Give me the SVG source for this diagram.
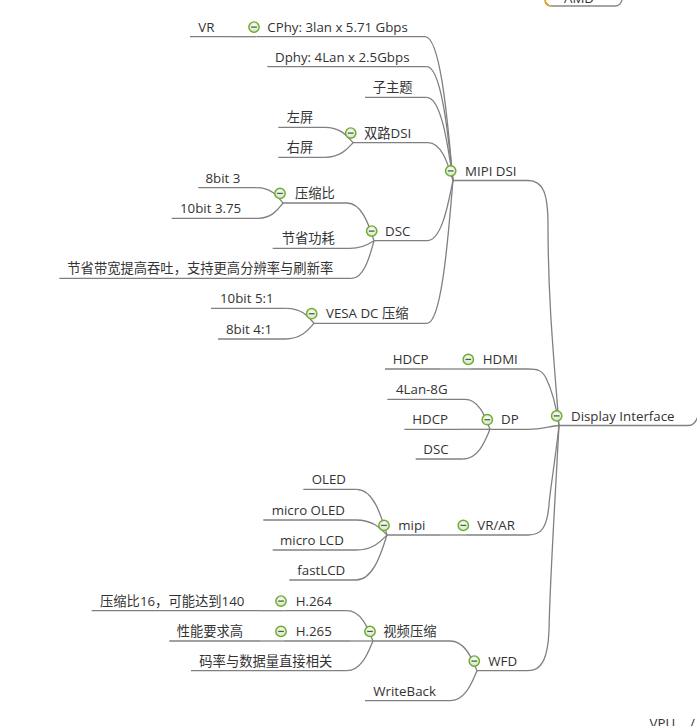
<svg xmlns="http://www.w3.org/2000/svg" xmlns:xlink="http://www.w3.org/1999/xlink" width="697" height="726" viewBox="0 0 697 726">
<style>
.t{font-family:"Open Sans","Noto Sans CJK SC",sans-serif;font-size:13.3px;fill:#333}
.u{stroke:#808080;stroke-width:1.3;fill:none}
.c{stroke:#808080;stroke-width:1.3;fill:none}
</style>
<defs>
<radialGradient id="gg" cx="0.5" cy="0.4" r="0.6">
<stop offset="0" stop-color="#ffffff"/>
<stop offset="1" stop-color="#c9e4ad"/>
</radialGradient>
<g id="col">
<circle r="5.2" fill="url(#gg)" stroke="#6aaa33" stroke-width="1.4"/>
<line x1="-2.8" y1="0" x2="2.8" y2="0" stroke="#555" stroke-width="1.3"/>
</g>
</defs>
<rect width="697" height="726" fill="#fff"/>

<g id="connectors">
<!-- root: Display Interface to children -->
<path class="c" d="M559,425.5 C554,360 548,300 548,225 C548,193 543,180.5 528,180.5"/>
<path class="c" d="M559,425.5 C556,405 551,388 546,378 C542,370 537,369 528,369"/>
<path class="c" d="M559,425.5 C550,426 542,429.3 528,429.3"/>
<path class="c" d="M559,425.5 C554,470 550,490 549,505 C547,527 542,535 528,535"/>
<path class="c" d="M559,425.5 C554,520 550,580 549,630 C548,658 542,670.7 528,670.7"/>
<!-- MIPI DSI children -->
<path class="c" d="M425,36.7 C441.8,36.7 448.8,137.4 453,180.5"/>
<path class="c" d="M426.7,66.7 C442.5,66.7 449.1,146.4 453,180.5"/>
<path class="c" d="M426.7,97.3 C442.5,97.3 449.1,155.5 453,180.5"/>
<path class="c" d="M428,142.7 C443,142.7 449.3,169.2 453,180.5"/>
<path class="c" d="M427,240.7 C442.6,240.7 449.1,198.6 453,180.5"/>
<path class="c" d="M427,323.3 C442.6,323.3 449.1,223.3 453,180.5"/>
<!-- CPhy child -->
<path class="c" d="M230,36.7 H256.5"/>
<!-- 双路DSI children -->
<path class="c" d="M325,127.3 C341.8,127.3 348.8,138.1 353,142.7"/>
<path class="c" d="M325,157.3 C341.8,157.3 348.8,147.1 353,142.7"/>
<!-- DSC children -->
<path class="c" d="M347,203 C363.2,203 370,229.4 374,240.7"/>
<path class="c" d="M350,248.3 C364.4,248.3 370.4,243 374,240.7"/>
<path class="c" d="M351.7,278.3 C365.1,278.3 370.7,252 374,240.7"/>
<!-- 压缩比 children -->
<path class="c" d="M256.7,187.7 C272.5,187.7 279.1,198.4 283,203"/>
<path class="c" d="M258,218.3 C273,218.3 279.3,207.6 283,203"/>
<!-- VESA children -->
<path class="c" d="M286.7,308.3 C303.1,308.3 309.9,318.8 314,323.3"/>
<path class="c" d="M285,339 C302.4,339 309.7,328 314,323.3"/>
<!-- HDMI child -->
<path class="c" d="M440,369 H471"/>
<!-- DP children -->
<path class="c" d="M465,399.3 C480,399.3 486.3,420.3 490,429.3"/>
<path class="c" d="M460,429.3 H490"/>
<path class="c" d="M463.3,459 C479.3,459 486,438.2 490,429.3"/>
<!-- VR/AR child -->
<path class="c" d="M440,535 H466"/>
<!-- mipi children -->
<path class="c" d="M356.7,489.3 C374.9,489.3 382.5,521.3 387,535"/>
<path class="c" d="M356,520 C374.6,520 382.4,530.5 387,535"/>
<path class="c" d="M356,550 C374.6,550 382.4,539.5 387,535"/>
<path class="c" d="M356,580 C374.6,580 382.4,548.5 387,535"/>
<!-- WFD children -->
<path class="c" d="M450,641 C466.2,641 473,661.8 477,670.7"/>
<path class="c" d="M450,700.7 C466.2,700.7 473,679.7 477,670.7"/>
<!-- 视频压缩 children -->
<path class="c" d="M346.7,610.7 C362.5,610.7 369.1,631.9 373,641"/>
<path class="c" d="M350,641 H373"/>
<path class="c" d="M346.7,670.7 C362.5,670.7 369.1,649.9 373,641"/>
<!-- H.264 / H.265 children -->
<path class="c" d="M260,610.7 H283.5"/>
<path class="c" d="M260,641 H283.5"/>
</g>

<g id="amd">
<rect x="545" y="-24" width="77" height="30" rx="7" fill="#fff" stroke="#888" stroke-width="1.3"/>
<path d="M545,-4 V0 Q545,6 551,6" fill="none" stroke="#f5a623" stroke-width="1.5"/>
<text class="t" x="564" y="2.5">AMD</text>
</g>

<g id="display-interface">
<path class="u" d="M559,425.5 H688 Q695,425.5 698,416"/>
<use xlink:href="#col" href="#col" x="556.7" y="415.9"/>
<text class="t" x="571" y="420.5">Display Interface</text>
</g>

<g id="mipi-dsi">
<path class="u" d="M453,180.5 H528"/>
<use xlink:href="#col" href="#col" x="450.7" y="170.9"/>
<text class="t" x="465" y="175.5">MIPI DSI</text>
</g>
<g id="cphy">
<path class="u" d="M256.5,36.7 H425"/>
<use xlink:href="#col" href="#col" x="254" y="27.1"/>
<text class="t" x="267.3" y="31.7">CPhy: 3lan x 5.71 Gbps</text>
</g>
<g id="vr">
<path class="u" d="M190,36.7 H230"/>
<text class="t" x="198.3" y="31.7">VR</text>
</g>
<g id="dphy">
<path class="u" d="M267.3,66.7 H426.7"/>
<text class="t" x="275" y="61.7">Dphy: 4Lan x 2.5Gbps</text>
</g>
<g id="subtopic">
<path class="u" d="M365,97.3 H426.7"/>
<text class="t" x="372.7" y="92.3">子主题</text>
</g>
<g id="dual-dsi">
<path class="u" d="M353,142.7 H428"/>
<use xlink:href="#col" href="#col" x="350.7" y="133.1"/>
<text class="t" x="364" y="137.7">双路DSI</text>
</g>
<g id="left-screen">
<path class="u" d="M278.3,127.3 H325"/>
<text class="t" x="286.7" y="122.3">左屏</text>
</g>
<g id="right-screen">
<path class="u" d="M278.3,157.3 H325"/>
<text class="t" x="286.7" y="152.3">右屏</text>
</g>
<g id="dsc">
<path class="u" d="M374,240.7 H427"/>
<use xlink:href="#col" href="#col" x="371.7" y="231.1"/>
<text class="t" x="385" y="235.7">DSC</text>
</g>
<g id="ratio">
<path class="u" d="M283,203 H347"/>
<use xlink:href="#col" href="#col" x="280" y="193.4"/>
<text class="t" x="295" y="198">压缩比</text>
</g>
<g id="r8bit3">
<path class="u" d="M198.3,187.7 H256.7"/>
<text class="t" x="205.5" y="182.7">8bit 3</text>
</g>
<g id="r10bit375">
<path class="u" d="M171.7,218.3 H258"/>
<text class="t" x="180" y="213.3">10bit 3.75</text>
</g>
<g id="save-power">
<path class="u" d="M272.7,248.3 H350"/>
<text class="t" x="281.7" y="243.3">节省功耗</text>
</g>
<g id="save-bw">
<path class="u" d="M59.3,278.3 H351.7"/>
<text class="t" x="67.3" y="273.3">节省带宽提高吞吐，支持更高分辨率与刷新率</text>
</g>
<g id="vesa">
<path class="u" d="M314,323.3 H427"/>
<use xlink:href="#col" href="#col" x="311.7" y="313.7"/>
<text class="t" x="326" y="318.3">VESA DC 压缩</text>
</g>
<g id="v10bit">
<path class="u" d="M211,308.3 H286.7"/>
<text class="t" x="220" y="303.3">10bit 5:1</text>
</g>
<g id="v8bit">
<path class="u" d="M218,339 H285"/>
<text class="t" x="226" y="334">8bit 4:1</text>
</g>

<g id="hdmi">
<path class="u" d="M471,369 H528"/>
<use xlink:href="#col" href="#col" x="468.3" y="359.4"/>
<text class="t" x="482.7" y="364">HDMI</text>
</g>
<g id="hdmi-hdcp">
<path class="u" d="M385,369 H440"/>
<text class="t" x="392.7" y="364">HDCP</text>
</g>
<g id="dp">
<path class="u" d="M490,429.3 H528"/>
<use xlink:href="#col" href="#col" x="487.3" y="419.7"/>
<text class="t" x="501" y="424.3">DP</text>
</g>
<g id="dp-4lan">
<path class="u" d="M387.3,399.3 H465"/>
<text class="t" x="396" y="394.3">4Lan-8G</text>
</g>
<g id="dp-hdcp">
<path class="u" d="M404.3,429.3 H460"/>
<text class="t" x="412.3" y="424.3">HDCP</text>
</g>
<g id="dp-dsc">
<path class="u" d="M415.7,459 H463.3"/>
<text class="t" x="423.3" y="454">DSC</text>
</g>

<g id="vrar">
<path class="u" d="M466,535 H528"/>
<use xlink:href="#col" href="#col" x="463.3" y="525.4"/>
<text class="t" x="477.3" y="530">VR/AR</text>
</g>
<g id="mipi">
<path class="u" d="M387,535 H440"/>
<use xlink:href="#col" href="#col" x="384" y="525.4"/>
<text class="t" x="398.3" y="530">mipi</text>
</g>
<g id="oled">
<path class="u" d="M303.3,489.3 H356.7"/>
<text class="t" x="311.7" y="484.3">OLED</text>
</g>
<g id="micro-oled">
<path class="u" d="M263.3,520 H356"/>
<text class="t" x="271.7" y="515">micro OLED</text>
</g>
<g id="micro-lcd">
<path class="u" d="M272.7,550 H356"/>
<text class="t" x="280" y="545">micro LCD</text>
</g>
<g id="fastlcd">
<path class="u" d="M289.3,580 H356"/>
<text class="t" x="297.3" y="575">fastLCD</text>
</g>

<g id="wfd">
<path class="u" d="M477,670.7 H528"/>
<use xlink:href="#col" href="#col" x="474.3" y="661.1"/>
<text class="t" x="488.3" y="665.7">WFD</text>
</g>
<g id="video-comp">
<path class="u" d="M373,641 H450"/>
<use xlink:href="#col" href="#col" x="370" y="631.4"/>
<text class="t" x="383.3" y="636">视频压缩</text>
</g>
<g id="h264">
<path class="u" d="M283.5,610.7 H346.7"/>
<use xlink:href="#col" href="#col" x="281" y="601.1"/>
<text class="t" x="295.7" y="605.7">H.264</text>
</g>
<g id="h264-note">
<path class="u" d="M91.7,610.7 H260"/>
<text class="t" x="100" y="605.7">压缩比16，可能达到140</text>
</g>
<g id="h265">
<path class="u" d="M283.5,641 H350"/>
<use xlink:href="#col" href="#col" x="281" y="631.4"/>
<text class="t" x="295.7" y="636">H.265</text>
</g>
<g id="h265-note">
<path class="u" d="M169.3,641 H260"/>
<text class="t" x="176.7" y="636">性能要求高</text>
</g>
<g id="bitrate">
<path class="u" d="M191,670.7 H346.7"/>
<text class="t" x="199.3" y="665.7">码率与数据量直接相关</text>
</g>
<g id="writeback">
<path class="u" d="M365,700.7 H450"/>
<text class="t" x="373.3" y="695.7">WriteBack</text>
</g>

<g id="vpu">
<text class="t" x="649.5" y="727.5">VPU</text>
<text class="t" x="690" y="727.5">/</text>
</g>
</svg>
